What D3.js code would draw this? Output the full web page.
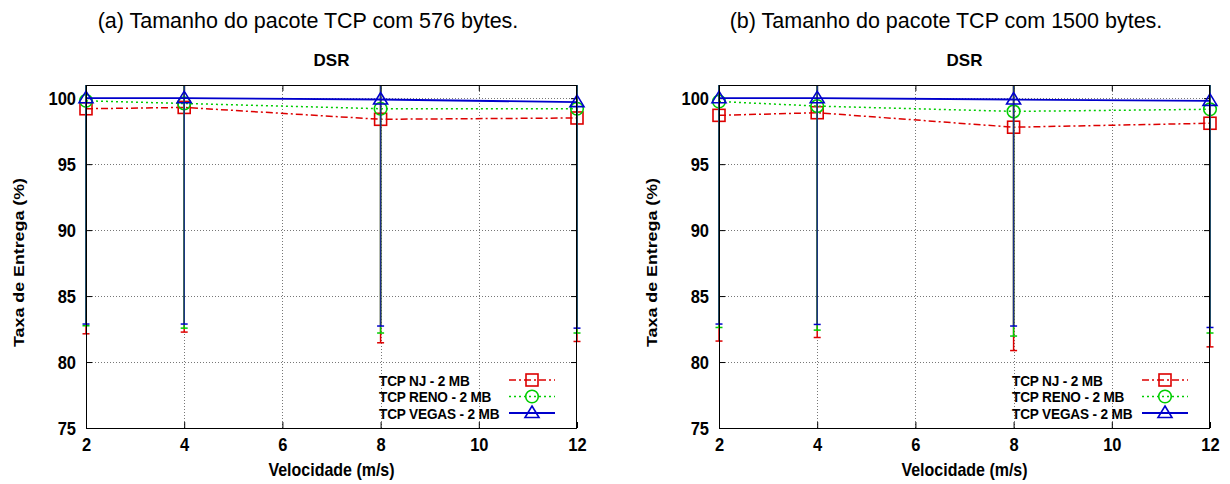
<!DOCTYPE html>
<html>
<head>
<meta charset="utf-8">
<script src="https://cdn.jsdelivr.net/npm/d3@7"></script>
<style>
  html, body { margin: 0; padding: 0; background: #fff; }
  svg { display: block; font-family: "Liberation Sans", Arial, Helvetica, sans-serif; }
</style>
</head>
<body>
<svg id="chart" width="1230" height="484"></svg>
<script>
// ---- data ----
const speeds = [2, 4, 8, 12];
const xTicks = [2, 4, 6, 8, 10, 12];
const yTicks = [75, 80, 85, 90, 95, 100];
const seriesNames = ["TCP NJ - 2 MB", "TCP RENO - 2 MB", "TCP VEGAS - 2 MB"];
const panelTitles = ["(a) Tamanho do pacote TCP com 576 bytes.", "(b) Tamanho do pacote TCP com 1500 bytes."];
const subTitle = "DSR";
const xLabel = "Velocidade (m/s)";
const yLabel = "Taxa de Entrega (%)";

// panel (a)
const njA = [99.2, 99.3, 98.4, 98.5];
const renoA = [99.8, 99.6, 99.2, 99.2];
const vegasA = [100.0, 100.0, 99.9, 99.7];
const njLowA = [82.14, 82.27, 81.46, 81.56];
const renoLowA = [82.75, 82.57, 82.2, 82.2];
const vegasLowA = [82.88, 82.88, 82.73, 82.57];

// panel (b)
const njB = [98.7, 98.9, 97.8, 98.1];
const renoB = [99.75, 99.4, 99.0, 99.16];
const vegasB = [100.0, 100.0, 99.9, 99.8];
const njLowB = [81.59, 81.86, 80.87, 81.15];
const renoLowB = [82.62, 82.42, 81.97, 82.2];
const vegasLowB = [82.88, 82.85, 82.73, 82.62];

// ---- styles ----
const styles = [
  { color: "#dd0000", bar: "#dd0000", dash: "7,3,2,3", width: 1.5, marker: "square" },
  { color: "#00cc00", bar: "#00cc00", dash: "2,3", width: 1.5, marker: "circle" },
  { color: "#0000cc", bar: "#1c2f86", dash: null, width: 1.8, marker: "triangle" }
];
const STRETCH = 1.15;

const svg = d3.select("#chart");

function stretchedText(parent, x, y, txt, opts) {
  const g = parent.append("g").attr("transform", `translate(${x},${y}) scale(1,${opts.s || 1})${opts.rotate ? " rotate(" + opts.rotate + ")" : ""}`);
  return g.append("text").attr("x", 0).attr("y", 0)
    .attr("text-anchor", opts.anchor || "start")
    .attr("dy", opts.dy || null)
    .attr("font-size", opts.size).attr("font-weight", opts.weight || "normal")
    .attr("letter-spacing", opts.ls || null)
    .attr("fill", "#000").text(txt);
}

function drawPanel(opts) {
  const { left, right, top, bottom, title, titleX, series, id } = opts;
  const x = d3.scaleLinear().domain([2, 12]).range([left, right]);
  const y = d3.scaleLinear().domain([75, 101]).range([bottom, top]);
  const g = svg.append("g");

  g.append("clipPath").attr("id", "clip" + id)
    .append("rect").attr("x", left - 10).attr("y", top).attr("width", right - left + 20).attr("height", bottom - top);

  // titles
  g.append("text").attr("x", titleX).attr("y", 28).attr("text-anchor", "middle")
    .attr("font-size", 21.5).attr("fill", "#000").text(title);
  g.append("text").attr("x", (left + right) / 2).attr("y", 66).attr("text-anchor", "middle")
    .attr("font-size", 17).attr("font-weight", "bold").text(subTitle);

  // grid
  const grid = g.append("g").attr("stroke", "#777").attr("stroke-width", 1).attr("stroke-dasharray", "1,2");
  grid.selectAll("line.gy").data(yTicks.filter(d => d > 75)).join("line")
    .attr("x1", left).attr("x2", right).attr("y1", d => Math.round(y(d)) + 0.5).attr("y2", d => Math.round(y(d)) + 0.5);
  grid.selectAll("line.gx").data(xTicks.filter(d => d > 2 && d < 12)).join("line")
    .attr("y1", top).attr("y2", bottom).attr("x1", d => Math.round(x(d)) + 0.5).attr("x2", d => Math.round(x(d)) + 0.5);

  // axes (tick marks from d3 axes, labels styled afterwards)
  const ya = g.append("g").attr("transform", `translate(${left},0)`)
    .call(d3.axisLeft(y).tickValues(yTicks).tickSize(-6).tickPadding(10));
  g.append("g").attr("transform", `translate(${right},0)`)
    .call(d3.axisRight(y).tickValues(yTicks).tickSize(-6).tickFormat(""));
  const xa = g.append("g").attr("transform", `translate(0,${bottom})`)
    .call(d3.axisBottom(x).tickValues(xTicks).tickSize(-6).tickPadding(0));
  g.append("g").attr("transform", `translate(0,${top})`)
    .call(d3.axisTop(x).tickValues(xTicks).tickSize(-6).tickFormat(""));
  g.selectAll(".domain").remove();
  g.selectAll(".tick line").attr("stroke", "#000");
  ya.selectAll("text").attr("font-size", 16.5).attr("font-weight", "bold")
    .attr("font-family", "'Liberation Sans', Arial, sans-serif").attr("fill", "#000")
    .attr("dy", null).attr("y", 0)
    .attr("transform", `scale(1,1.1) translate(0,${6.0})`);
  xa.selectAll("text").attr("font-size", 16.5).attr("font-weight", "bold")
    .attr("font-family", "'Liberation Sans', Arial, sans-serif").attr("fill", "#000")
    .attr("dy", null).attr("y", 0)
    .attr("transform", `translate(0,23) scale(1,1.1)`);

  // axis labels
  stretchedText(g, left - 67, (top + bottom) / 2 + 6, yLabel,
    { s: STRETCH, rotate: -90, anchor: "middle", dy: "0.35em", size: 15.5, weight: "bold" });
  stretchedText(g, (left + right) / 2, bottom + 48, xLabel,
    { s: 1.2, anchor: "middle", size: 16, weight: "bold" });

  const plot = g.append("g").attr("clip-path", `url(#clip${id})`);

  function marker(sel, type, color) {
    if (type === "square") {
      sel.append("rect").attr("x", -6).attr("y", -6).attr("width", 12).attr("height", 12)
        .attr("fill", "none").attr("stroke", color).attr("stroke-width", 1.6);
    } else if (type === "circle") {
      sel.append("circle").attr("r", 6.3).attr("fill", "none").attr("stroke", color).attr("stroke-width", 1.6);
    } else {
      sel.append("path").attr("d", "M0,-7 L7,4.5 L-7,4.5 Z").attr("fill", "none").attr("stroke", color).attr("stroke-width", 1.6);
    }
  }

  series.forEach((s, i) => {
    const st = styles[i];
    const pts = speeds.map((sp, j) => ({ x: sp, v: s.values[j], lo: s.low[j], hi: 2 * s.values[j] - s.low[j] }));
    // error bars
    const eb = plot.append("g").attr("stroke", st.bar).attr("stroke-width", 1.5);
    eb.selectAll("line.v").data(pts).join("line")
      .attr("x1", d => x(d.x)).attr("x2", d => x(d.x)).attr("y1", d => y(d.lo)).attr("y2", d => y(d.hi));
    eb.selectAll("line.c").data(pts).join("line")
      .attr("x1", d => x(d.x) - 3.5).attr("x2", d => x(d.x) + 3.5).attr("y1", d => y(d.lo)).attr("y2", d => y(d.lo))
      .attr("stroke", st.color);
    // line
    plot.append("path").datum(pts)
      .attr("d", d3.line().x(d => x(d.x)).y(d => y(d.v)))
      .attr("fill", "none").attr("stroke", st.color).attr("stroke-width", st.width)
      .attr("stroke-dasharray", st.dash);
    // markers
    plot.selectAll(null).data(pts).join("g")
      .attr("transform", d => `translate(${x(d.x)},${y(d.v)})`)
      .each(function () { marker(d3.select(this), st.marker, st.color); });
  });

  // border
  g.append("rect").attr("x", left + 0.5).attr("y", top + 0.5).attr("width", right - left - 1).attr("height", bottom - top)
    .attr("fill", "none").attr("stroke", "#000").attr("stroke-width", 1);

  // legend
  const lg = g.append("g");
  const lx = right - 198, sx1 = right - 68, sx2 = right - 22;
  seriesNames.forEach((name, i) => {
    const st = styles[i];
    const yy = bottom - 48 + i * 16.5;
    stretchedText(lg, lx, yy, name, { s: 1.13, dy: "0.36em", size: 13.6, weight: "bold", ls: "-0.15" });
    lg.append("line").attr("x1", sx1).attr("x2", sx2).attr("y1", yy).attr("y2", yy)
      .attr("stroke", st.color).attr("stroke-width", st.width).attr("stroke-dasharray", st.dash);
    const m = lg.append("g").attr("transform", `translate(${(sx1 + sx2) / 2},${yy})`);
    marker(m, st.marker, st.color);
  });
}

drawPanel({
  id: "a", left: 86, right: 577, top: 85, bottom: 428, title: panelTitles[0], titleX: 308,
  series: [
    { values: njA, low: njLowA },
    { values: renoA, low: renoLowA },
    { values: vegasA, low: vegasLowA }
  ]
});
drawPanel({
  id: "b", left: 719, right: 1210, top: 85, bottom: 428, title: panelTitles[1], titleX: 946,
  series: [
    { values: njB, low: njLowB },
    { values: renoB, low: renoLowB },
    { values: vegasB, low: vegasLowB }
  ]
});
</script>
</body>
</html>
